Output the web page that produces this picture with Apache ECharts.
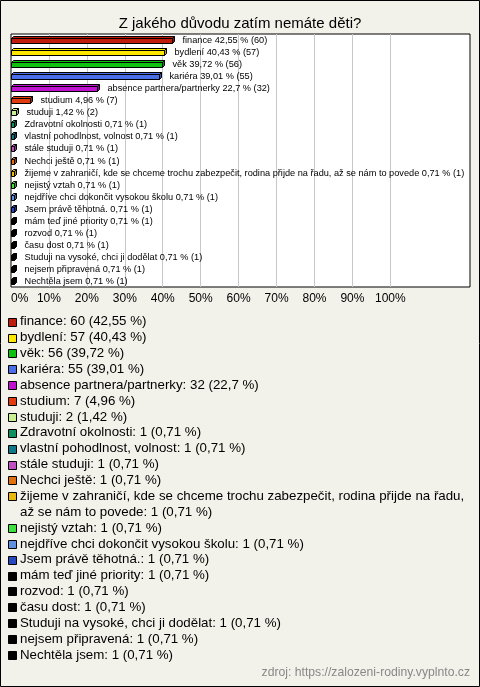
<!DOCTYPE html>
<html><head><meta charset="utf-8">
<script src="https://cdn.jsdelivr.net/npm/echarts@6/dist/echarts.min.js"></script>
<style>html,body{margin:0;padding:0;background:#f3f2ea}#c{width:480px;height:687px}</style>
</head><body><div id="c"></div>
<script>
const chartTitle = 'Z jakého důvodu zatím nemáte děti?';
const categories = ['finance','bydlení','věk','kariéra','absence partnera/partnerky','studium','studuji','Zdravotní okolnosti','vlastní pohodlnost, volnost','stále studuji','Nechci ještě','žijeme v zahraničí, kde se chceme trochu zabezpečit, rodina přijde na řadu, až se nám to povede','nejistý vztah','nejdříve chci dokončit vysokou školu','Jsem právě těhotná.','mám teď jiné priority','rozvod','času dost','Studuji na vysoké, chci ji dodělat','nejsem připravená','Nechtěla jsem'];
const counts = [60,57,56,55,32,7,2,1,1,1,1,1,1,1,1,1,1,1,1,1,1];
const percents = [42.55,40.43,39.72,39.01,22.7,4.96,1.42,0.71,0.71,0.71,0.71,0.71,0.71,0.71,0.71,0.71,0.71,0.71,0.71,0.71,0.71];
const colors = ['#c01c0c','#ffe800','#10c010','#4a6ee8','#c010d0','#e03c10','#c8f090','#109060','#107888','#c050c0','#e07010','#e8b810','#40e040','#6090e0','#2848c0','#000000','#000000','#000000','#000000','#000000','#000000'];
const tickLabels = ['0%','10%','20%','30%','40%','50%','60%','70%','80%','90%','100%'];
const sourceText = 'zdroj: https://zalozeni-rodiny.vyplnto.cz';

const FONT = '"Liberation Sans", Arial, sans-serif';
const fmt = v => String(v).replace('.', ',');

function shade(hex, f) {
  const n = parseInt(hex.slice(1), 16);
  let r = (n >> 16) & 255, g = (n >> 8) & 255, b = n & 255;
  r = Math.round(r * f); g = Math.round(g * f); b = Math.round(b * f);
  return 'rgb(' + r + ',' + g + ',' + b + ')';
}

const chart = echarts.init(document.getElementById('c'), null, {renderer: 'canvas'});

const LEG_FONT = '13.3px ' + FONT;
const mctx = document.createElement('canvas').getContext('2d');
mctx.font = LEG_FONT;
function wrap(text, maxW) {
  const words = text.split(' ');
  const lines = [];
  let cur = '';
  for (const w of words) {
    const t = cur ? cur + ' ' + w : w;
    if (mctx.measureText(t).width > maxW && cur) { lines.push(cur); cur = w; }
    else cur = t;
  }
  if (cur) lines.push(cur);
  return lines;
}
const graphics = [];
graphics.push({type: 'rect', shape: {x: 0.5, y: 0.5, width: 479, height: 686}, style: {fill: 'none', stroke: '#000', lineWidth: 1}, silent: true, z: 100});
let line = 0;
const LEG_Y0 = 321.7, LEG_H = 15.87;
categories.forEach((c, i) => {
  const txt = c + ': ' + counts[i] + ' (' + fmt(percents[i]) + ' %)';
  const lines = wrap(txt, 452);
  const yc = LEG_Y0 + line * LEG_H;
  graphics.push({type: 'rect', shape: {x: 8.5, y: Math.round(yc - 4) + 0.5, width: 8, height: 8}, style: {fill: colors[i], stroke: '#000', lineWidth: 1}, silent: true});
  lines.forEach((l, k) => {
    graphics.push({type: 'text', x: 20, y: LEG_Y0 + (line + k) * LEG_H, style: {text: l, font: LEG_FONT, fill: '#000', verticalAlign: 'middle'}, silent: true});
  });
  line += lines.length;
});
graphics.push({type: 'text', x: 470, y: 673, style: {text: sourceText, font: '12.2px ' + FONT, fill: '#888', align: 'right', verticalAlign: 'middle'}, silent: true});

const splitColors = ['transparent'];
for (let k = 0; k < 10; k++) splitColors.push('#c8c8c8');
splitColors.push('transparent', 'transparent', 'transparent');

const data = percents.map((p, i) => [p, i]);

chart.setOption({
  backgroundColor: '#f3f2ea',
  animation: false,
  title: {text: chartTitle, left: 'center', top: 11, textStyle: {fontSize: 15, fontWeight: 'normal', color: '#000', fontFamily: FONT}},
  grid: {left: 11, right: 10, top: 34, bottom: 400, show: true, backgroundColor: '#fff', borderColor: '#000', borderWidth: 1, containLabel: false},
  xAxis: {
    type: 'value', min: 0, max: 121, interval: 10,
    axisLine: {show: false}, axisTick: {show: false},
    axisLabel: {color: '#000', fontSize: 12, fontFamily: FONT, margin: 6, alignMinLabel: 'left',
      formatter: v => (v <= 100 && v % 10 === 0) ? tickLabels[v / 10] : ''},
    splitLine: {show: true, lineStyle: {color: splitColors, width: 1}}
  },
  yAxis: {type: 'category', data: categories, inverse: true, axisLine: {show: false}, axisTick: {show: false}, axisLabel: {show: false}, splitLine: {show: false}},
  series: [{
    type: 'custom',
    data: data,
    encode: {x: 0, y: 1},
    clip: false,
    renderItem: function (params, api) {
      const idx = api.value(1);
      const v = api.value(0);
      const p0 = api.coord([0, idx]);
      const p1 = api.coord([v, idx]);
      const x0 = Math.round(p0[0]) + 0.5;
      const x1 = Math.round(p1[0]) + 0.5;
      const cy = Math.round(p1[1]);
      const top = cy - 1.5, bot = cy + 3.5, d = 2;
      const col = colors[idx];
      return {
        type: 'group',
        children: [
          {type: 'polygon', shape: {points: [[x0, top], [x0 + d, top - d], [x1 + d, top - d], [x1, top]]}, style: {fill: col, stroke: '#000', lineWidth: 1}},
          {type: 'polygon', shape: {points: [[x1, top], [x1 + d, top - d], [x1 + d, bot - d], [x1, bot]]}, style: {fill: shade(col, 0.7), stroke: '#000', lineWidth: 1}},
          {type: 'rect', shape: {x: x0, y: top, width: Math.max(x1 - x0, 0.5), height: bot - top}, style: {fill: col, stroke: '#000', lineWidth: 1}},
          {type: 'text', x: x1 + 10, y: cy + 0.5, style: {text: categories[idx] + ' ' + fmt(percents[idx]) + ' % (' + counts[idx] + ')', font: '9.2px ' + FONT, fill: '#000', verticalAlign: 'middle'}}
        ]
      };
    }
  }],
  graphic: graphics
});
</script></body></html>
